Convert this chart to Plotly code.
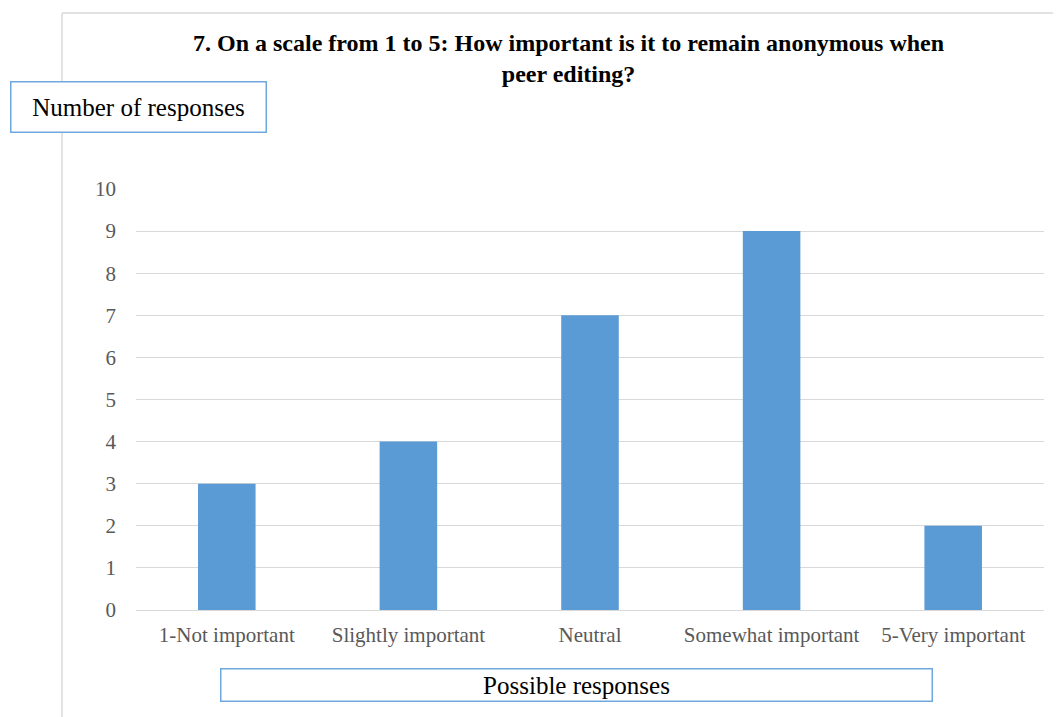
import plotly.graph_objects as go

categories = ["1-Not important", "Slightly important", "Neutral", "Somewhat important", "5-Very important"]
values = [3, 4, 7, 9, 2]
y_ticks = list(range(0, 11))

title_lines = ["7. On a scale from 1 to 5: How important is it to remain anonymous when", "peer editing?"]
y_title = "Number of responses"
x_title = "Possible responses"

W, H = 1061, 717
OFF = 8  # page offset of the figure
L, T = 136 - OFF, 189 - OFF
PR, PB = 1044 - OFF, 610 - OFF
R, B = W - PR, H - PB
pw, ph = PR - L, PB - T


def px(x):
    return (x - OFF - L) / pw


def py(y):
    return (PB - (y - OFF)) / ph


font = "Liberation Serif"

fig = go.Figure(go.Bar(x=categories, y=values, marker=dict(color="#5B9BD5", line=dict(width=0)), width=0.317))

fig.update_layout(
    width=W, height=H,
    margin=dict(l=L, r=R, t=T, b=B, pad=0),
    paper_bgcolor="white", plot_bgcolor="white",
    font=dict(family=font, color="#595959", size=21),
    showlegend=False,
    xaxis=dict(showgrid=False, showline=True, linecolor="#d9d9d9", linewidth=1,
               tickfont=dict(size=21, color="#595959", family=font), ticks="", ticklabelstandoff=6),
    yaxis=dict(range=[0, 10], tickvals=y_ticks, showgrid=True, gridcolor="#d9d9d9", gridwidth=1,
               zeroline=False, showline=False, tickfont=dict(size=21, color="#595959", family=font),
               ticks="", ticklabelstandoff=19),
    shapes=[
        dict(type="line", xref="paper", yref="paper", x0=px(62), x1=px(W + 20), y0=py(13), y1=py(13),
             line=dict(color="#d9d9d9", width=1.5)),
        dict(type="line", xref="paper", yref="paper", x0=px(62), x1=px(62), y0=py(13), y1=py(H + 20),
             line=dict(color="#d9d9d9", width=1.5)),
    ],
    annotations=[
        dict(text="<br>".join("<b>" + t + "</b>" for t in title_lines), xref="paper", yref="paper",
             x=px(568.5), y=py(58), xanchor="center", yanchor="middle", showarrow=False, align="center",
             font=dict(size=24, color="black", family=font)),
        dict(text=y_title, xref="paper", yref="paper", x=px(138.5), y=py(107), xanchor="center", yanchor="middle",
             showarrow=False, width=254, height=49, borderpad=0, bordercolor="#6FA8DC", borderwidth=1.5,
             bgcolor="white", font=dict(size=25, color="black", family=font), align="center"),
        dict(text=x_title, xref="paper", yref="paper", x=px(576.5), y=py(685), xanchor="center", yanchor="middle",
             showarrow=False, width=710, height=31, borderpad=0, bordercolor="#6FA8DC", borderwidth=1.5,
             bgcolor="white", font=dict(size=25, color="black", family=font), align="center"),
    ],
)

fig.write_html("out.html")
